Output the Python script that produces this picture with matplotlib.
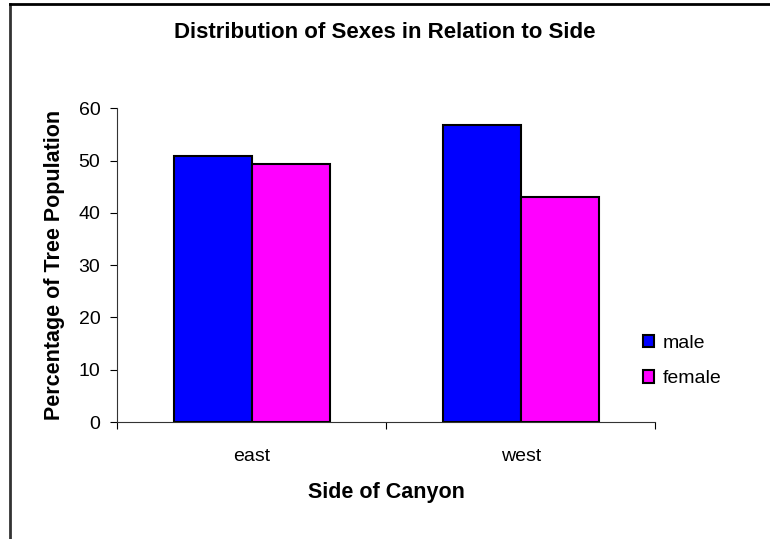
import matplotlib
matplotlib.use('Agg')
import matplotlib.pyplot as plt
import numpy as np
from matplotlib.lines import Line2D

plt.rcParams['font.family'] = ['Liberation Sans', 'DejaVu Sans']

sides = ['east', 'west']
male = [50.8, 56.9]
female = [49.3, 43.1]

fig = plt.figure(figsize=(7.7, 5.39), dpi=100)
ax = fig.add_axes([0.152, 0.217, 0.699, 0.582])

x = np.arange(len(sides))
w = 0.29
ax.bar(x - w / 2, male, w, color='#0000ff', edgecolor='black', linewidth=1.5, label='male')
ax.bar(x + w / 2, female, w, color='#ff00ff', edgecolor='black', linewidth=1.5, label='female')

ax.set_xlim(-0.5, 1.5)
ax.set_ylim(0, 60)
ax.set_yticks(range(0, 61, 10))
ax.tick_params(axis='y', direction='out', length=5, width=0.8, labelsize=14, pad=7)

# category labels centred, ticks on category boundaries
ax.set_xticks([-0.5, 0.5, 1.5])
ax.set_xticklabels([])
ax.set_xticks(x, minor=True)
ax.set_xticklabels(sides, minor=True, fontsize=14)
ax.tick_params(axis='x', which='major', direction='out', length=5, width=0.8)
ax.tick_params(axis='x', which='minor', length=0, pad=19)

for s in ['top', 'right']:
    ax.spines[s].set_visible(False)
ax.spines['left'].set_color('#333333')
ax.spines['bottom'].set_color('#333333')

ax.set_ylabel('Percentage of Tree Population', fontsize=15.5, fontweight='bold', labelpad=10)
ax.set_xlabel('Side of Canyon', fontsize=15.5, fontweight='bold', labelpad=12)
fig.text(0.5, 1 - 33 / 539, 'Distribution of Sexes in Relation to Side',
         ha='center', va='center', fontsize=16, fontweight='bold')

fig.legend(loc='center left', bbox_to_anchor=(0.812, 1 - 361 / 539), frameon=False,
           fontsize=14, handlelength=0.6, handleheight=0.6, handletextpad=0.45,
           labelspacing=0.95)

# outer chart frame (only top and left show in the crop)
fig.add_artist(Line2D([9.5 / 770, 9.5 / 770], [0, 1 - 4 / 539], transform=fig.transFigure,
                      color='#333333', linewidth=2))
fig.add_artist(Line2D([9.5 / 770, 1], [1 - 4 / 539, 1 - 4 / 539], transform=fig.transFigure,
                      color='black', linewidth=2))

fig.savefig('out.png', dpi=100)
